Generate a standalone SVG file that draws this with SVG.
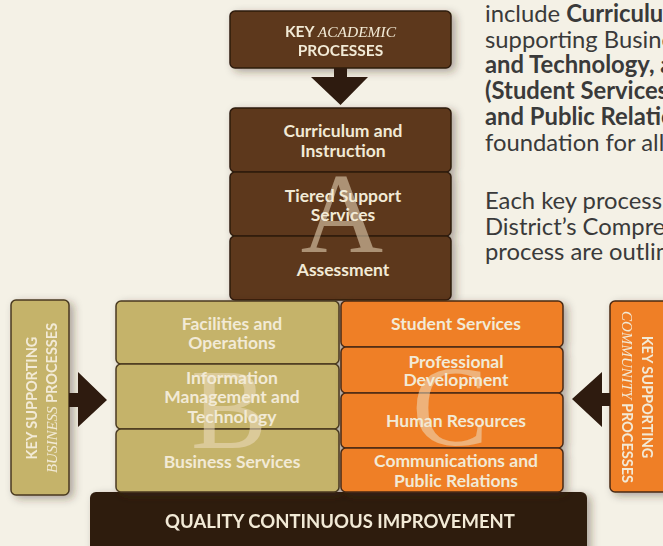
<svg xmlns="http://www.w3.org/2000/svg" width="663" height="546" viewBox="0 0 663 546">
<defs>
<filter id="sh" x="-20%" y="-20%" width="150%" height="150%">
<feDropShadow dx="4" dy="3" stdDeviation="4" flood-color="#3a2a1a" flood-opacity="0.38"/>
</filter>
</defs>
<style>
.bg{fill:#f4f1e6}
.brown{fill:#5d381b;stroke:#2e1b0f;stroke-width:1.5}
.tan{fill:#c5b36a;stroke:#4a3a20;stroke-width:1.5}
.orange{fill:#ef7f28;stroke:#4a2a14;stroke-width:1.5}
.dark{fill:#2e1b0f}
.lbl{font-family:Lato,"Liberation Sans",sans-serif;font-weight:bold;font-size:17.5px;fill:#f2ead6;text-anchor:middle}
.side{font-family:Lato,"Liberation Sans",sans-serif;font-weight:bold;font-size:14.5px;fill:#f2ead6;text-anchor:middle}
.ital{font-family:"Liberation Serif",serif;font-style:italic;font-weight:normal}
.big{font-family:"Liberation Serif",serif;font-size:114px;fill:#ecdcc0;fill-opacity:0.55;text-anchor:middle}
.para{font-family:Lato,"Liberation Sans",sans-serif;font-size:23.8px;fill:#3a3a3a}
.b{font-weight:bold}
</style>
<rect class="bg" x="0" y="0" width="663" height="546"/>

<g id="paragraph" class="para">
<text x="485" y="22">include <tspan class="b">Curriculum</tspan></text>
<text x="485" y="48">supporting Business</text>
<text x="485" y="73" class="b">and Technology, and</text>
<text x="485" y="99" class="b">(Student Services</text>
<text x="485" y="125" class="b">and Public Relations</text>
<text x="485" y="151">foundation for all</text>
<text x="485" y="209">Each key process</text>
<text x="485" y="235">District’s Comprehensive</text>
<text x="485" y="260">process are outlined</text>
</g>

<g id="bottom-bar" filter="url(#sh)">
<rect class="dark" x="90" y="492" width="497" height="70" rx="6"/>
<text x="340" y="528" style="font-family:Lato,'Liberation Sans',sans-serif;font-weight:bold;font-size:18.5px;fill:#f2ead6;text-anchor:middle">QUALITY CONTINUOUS IMPROVEMENT</text>
</g>

<g id="key-academic" filter="url(#sh)">
<rect class="brown" x="230" y="11" width="221" height="57" rx="5"/>
<text class="side" x="340.5" y="37" style="font-size:15.5px">KEY <tspan class="ital">ACADEMIC</tspan></text>
<text class="side" x="340.5" y="56" style="font-size:15.5px">PROCESSES</text>
</g>

<g id="column-a" filter="url(#sh)">
<g id="curriculum">
<rect class="brown" x="230" y="108" width="221" height="64" rx="5"/>
</g>
<g id="tiered">
<rect class="brown" x="230" y="172" width="221" height="64" rx="5"/>
</g>
<g id="assessment">
<rect class="brown" x="230" y="236" width="221" height="64" rx="5"/>
</g>
</g>
<text class="big" x="342" y="252">A</text>
<text class="lbl" x="343" y="137">Curriculum and</text>
<text class="lbl" x="343" y="157">Instruction</text>
<text class="lbl" x="343" y="202">Tiered Support</text>
<text class="lbl" x="343" y="221">Services</text>
<text class="lbl" x="343" y="276">Assessment</text>

<g id="column-b" filter="url(#sh)">
<g id="facilities"><rect class="tan" x="116" y="301" width="223" height="63" rx="5"/></g>
<g id="info-mgmt"><rect class="tan" x="116" y="364" width="223" height="65" rx="5"/></g>
<g id="business"><rect class="tan" x="116" y="429" width="223" height="63" rx="5"/></g>
</g>
<text class="big" x="229" y="448">B</text>
<text class="lbl" x="232" y="330">Facilities and</text>
<text class="lbl" x="232" y="349">Operations</text>
<text class="lbl" x="232" y="384">Information</text>
<text class="lbl" x="232" y="403">Management and</text>
<text class="lbl" x="232" y="423">Technology</text>
<text class="lbl" x="232" y="468">Business Services</text>

<g id="column-c" filter="url(#sh)">
<g id="student"><rect class="orange" x="341" y="301" width="222" height="46" rx="5"/></g>
<g id="professional"><rect class="orange" x="341" y="347" width="222" height="46" rx="5"/></g>
<g id="human"><rect class="orange" x="341" y="393" width="222" height="55" rx="5"/></g>
<g id="communications"><rect class="orange" x="341" y="448" width="222" height="44" rx="5"/></g>
</g>
<text class="big" x="450" y="445">C</text>
<text class="lbl" x="456" y="330">Student Services</text>
<text class="lbl" x="456" y="368">Professional</text>
<text class="lbl" x="456" y="386">Development</text>
<text class="lbl" x="456" y="427">Human Resources</text>
<text class="lbl" x="456" y="467">Communications and</text>
<text class="lbl" x="456" y="487">Public Relations</text>

<g id="key-business" filter="url(#sh)">
<rect class="tan" x="11" y="300" width="58" height="195" rx="5"/>
<g transform="translate(40 398) rotate(-90)">
<text class="side" x="0" y="-3">KEY SUPPORTING</text>
<text class="side" x="0" y="17"><tspan class="ital" style="font-size:15px">BUSINESS</tspan> PROCESSES</text>
</g>
</g>

<g id="key-community" filter="url(#sh)">
<rect class="orange" x="610" y="301" width="60" height="191" rx="5"/>
<g transform="translate(637 397) rotate(90)">
<text class="side" x="0" y="-5">KEY SUPPORTING</text>
<text class="side" x="0" y="15"><tspan class="ital" style="font-size:15px">COMMUNITY</tspan> PROCESSES</text>
</g>
</g>

<g id="connectors" class="dark">
<path d="M334 68 H347 V77 H368 L340.5 105 L311 77 H334 Z"/>
<path d="M69 393 H78 V372 L107 400 L78 427 V407 H69 Z"/>
<path d="M610 393 H602 V372 L572 399 L602 427 V406 H610 Z"/>
</g>
</svg>
